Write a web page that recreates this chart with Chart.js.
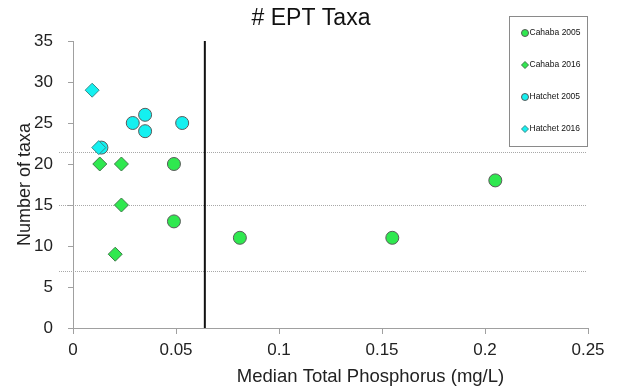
<!DOCTYPE html>
<html>
<head>
<meta charset="utf-8">
<script src="https://cdn.jsdelivr.net/npm/chart.js@4.4.1/dist/chart.umd.min.js"></script>
<style>
  html, body { margin: 0; padding: 0; background: #fff; }
  #wrap { width: 620px; height: 389px; }
</style>
</head>
<body>
<div id="wrap"><canvas id="myChart"></canvas></div>
<script>
// values
var cahaba2005X = [0.049, 0.049, 0.081, 0.155, 0.205];
var cahaba2005Y = [20, 13, 11, 11, 18];
var cahaba2016X = [0.013, 0.0235, 0.0235, 0.0205];
var cahaba2016Y = [20, 20, 15, 9];
var hatchet2005X = [0.029, 0.035, 0.035, 0.053, 0.0138];
var hatchet2005Y = [25, 26, 24, 25, 22];
var hatchet2016X = [0.0093, 0.0125];
var hatchet2016Y = [29, 22];
var cutoffX = [0.064, 0.064];
var cutoffY = [0, 35];
var refLinesY = [21.5, 15, 7];
var seriesNames = ["Cahaba 2005", "Cahaba 2016", "Hatchet 2005", "Hatchet 2016"];
var chartTitle = "# EPT Taxa";
var xTitle = "Median Total Phosphorus (mg/L)";

var FONT = "'Liberation Sans', Arial, sans-serif";

function pts(xs, ys) {
    return xs.map(function (x, i) { return { x: x, y: ys[i] }; });
}

// dotted horizontal lines behind the points
var refLines = {
    id: "refLines",
    beforeDatasetsDraw: function (chart) {
        var ctx = chart.ctx, a = chart.chartArea, ys = chart.scales.y;
        ctx.save();
        ctx.strokeStyle = "#a8a8a8";
        ctx.lineWidth = 1;
        ctx.setLineDash([1, 1]);
        refLinesY.forEach(function (v) {
            var py = Math.round(ys.getPixelForValue(v)) + 0.5;
            ctx.beginPath();
            ctx.moveTo(a.left - 14, py);
            ctx.lineTo(a.right - 1, py);
            ctx.stroke();
        });
        ctx.restore();
    }
};

// boxed legend, title and shifted x title (placed like the original)
var boxLegend = {
    id: "boxLegend",
    afterDraw: function (chart) {
        var ctx = chart.ctx, a = chart.chartArea;
        var right = a.right - 1, left = right - 78, top = 16, bottom = 146;
        ctx.save();
        ctx.fillStyle = "#fff";
        ctx.fillRect(left, top, right - left, bottom - top);
        ctx.strokeStyle = "#8a8a8a";
        ctx.lineWidth = 1;
        ctx.strokeRect(left + 0.5, top + 0.5, right - left, bottom - top);
        ctx.font = "8.5px " + FONT;
        ctx.textBaseline = "middle";
        seriesNames.forEach(function (name, i) {
            var ds = chart.data.datasets[i];
            var y = 33 + i * 32;
            var x = left + 16;
            ctx.fillStyle = ds.backgroundColor;
            ctx.strokeStyle = ds.borderColor;
            ctx.beginPath();
            if (ds.pointStyle === "rectRot") {
                ctx.moveTo(x - 3.5, y); ctx.lineTo(x, y - 3.5);
                ctx.lineTo(x + 3.5, y); ctx.lineTo(x, y + 3.5);
                ctx.closePath();
            } else {
                ctx.arc(x, y, 3.5, 0, Math.PI * 2);
            }
            ctx.fill();
            ctx.stroke();
            ctx.fillStyle = "#111";
            ctx.fillText(name, x + 4.5, y);
        });
        ctx.textAlign = "center";
        ctx.textBaseline = "middle";
        // chart title
        ctx.font = "23px " + FONT;
        ctx.fillStyle = "#111";
        ctx.fillText(chartTitle, chart.width / 2 + 1, 19);
        // x axis title
        ctx.font = "18.5px " + FONT;
        ctx.fillStyle = "#222";
        ctx.fillText(xTitle, (a.left + a.right) / 2 + 40, 377);
        ctx.restore();
    }
};

document.addEventListener("DOMContentLoaded", function () {
    var ctx = document.getElementById("myChart").getContext("2d");
    new Chart(ctx, {
        type: "scatter",
        data: {
            datasets: [{
                label: seriesNames[0],
                data: pts(cahaba2005X, cahaba2005Y),
                backgroundColor: "#2fe84f",
                borderColor: "#5a5a5a",
                borderWidth: 1,
                pointStyle: "circle",
                pointRadius: 6.5,
                order: 2
            }, {
                label: seriesNames[1],
                data: pts(cahaba2016X, cahaba2016Y),
                backgroundColor: "#2fe84f",
                borderColor: "#3f7a4a",
                borderWidth: 1,
                pointStyle: "rectRot",
                pointRadius: 7,
                order: 3
            }, {
                label: seriesNames[2],
                data: pts(hatchet2005X, hatchet2005Y),
                backgroundColor: "#14f0f0",
                borderColor: "#5a5a5a",
                borderWidth: 1,
                pointStyle: "circle",
                pointRadius: 6.5,
                order: 1
            }, {
                label: seriesNames[3],
                data: pts(hatchet2016X, hatchet2016Y),
                backgroundColor: "#14f0f0",
                borderColor: "#3a8a8a",
                borderWidth: 1,
                pointStyle: "rectRot",
                pointRadius: 7,
                order: 0
            }, {
                label: "cutoff",
                data: pts(cutoffX, cutoffY),
                showLine: true,
                borderColor: "#111",
                borderWidth: 2,
                pointRadius: 0,
                clip: false,
                order: 5
            }]
        },
        options: {
            responsive: true,
            maintainAspectRatio: false,
            animation: false,
            events: [],
            layout: { padding: { left: 0, right: 32, top: 41, bottom: 0 } },
            plugins: {
                legend: { display: false },
                tooltip: { enabled: false },
                title: { display: false }
            },
            scales: {
                x: {
                    type: "linear",
                    min: 0,
                    max: 0.25,
                    afterFit: function (s) { s.height = 61; },
                    border: { display: true, color: "#a0a0a0", width: 1 },
                    grid: { display: true, drawOnChartArea: false, drawTicks: true, tickLength: 6, color: "#a0a0a0" },
                    ticks: {
                        stepSize: 0.05,
                        padding: 6,
                        color: "#222",
                        font: { family: FONT, size: 17 },
                        maxRotation: 0,
                        callback: function (v) { return String(+v.toFixed(2)); }
                    },
                    title: { display: false }
                },
                y: {
                    min: 0,
                    max: 35,
                    afterFit: function (s) { s.width = 73; },
                    border: { display: true, color: "#a0a0a0", width: 1 },
                    grid: { display: true, drawOnChartArea: false, drawTicks: true, tickLength: 5, color: "#a0a0a0" },
                    ticks: {
                        stepSize: 5,
                        padding: 15,
                        color: "#222",
                        font: { family: FONT, size: 17 }
                    },
                    title: {
                        display: true,
                        text: "Number of taxa",
                        color: "#222",
                        font: { family: FONT, size: 18 },
                        padding: { top: 14, bottom: 0 }
                    }
                }
            }
        },
        plugins: [refLines, boxLegend]
    });
});
</script>
</body>
</html>
